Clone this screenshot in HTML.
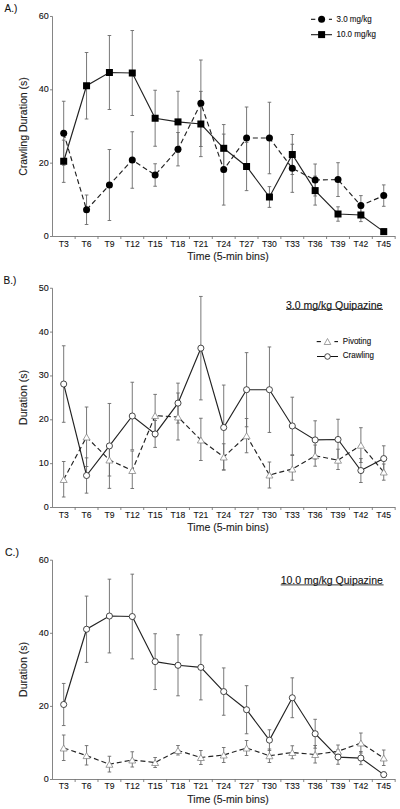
<!DOCTYPE html>
<html><head><meta charset="utf-8"><title>Figure</title>
<style>html,body{margin:0;padding:0;background:#fff;}svg{display:block;}svg text{stroke:#111;stroke-width:0.1px;}</style>
</head><body>
<svg width="400" height="809" viewBox="0 0 400 809" font-family="Liberation Sans, sans-serif">
<rect width="400" height="809" fill="#fff"/>
<text x="4.60" y="11.60" font-size="10" fill="#111">A.)</text>
<line x1="52.5" y1="16.5" x2="52.5" y2="236.5" stroke="#666" stroke-width="0.8"/>
<line x1="50.0" y1="236.5" x2="52.5" y2="236.5" stroke="#666" stroke-width="0.8"/>
<text x="48.80" y="239.00" font-size="9" text-anchor="end" fill="#111">0</text>
<line x1="50.0" y1="163.16" x2="52.5" y2="163.16" stroke="#666" stroke-width="0.8"/>
<text x="48.80" y="165.66" font-size="9" text-anchor="end" fill="#111">20</text>
<line x1="50.0" y1="89.82" x2="52.5" y2="89.82" stroke="#666" stroke-width="0.8"/>
<text x="48.80" y="92.32" font-size="9" text-anchor="end" fill="#111">40</text>
<line x1="50.0" y1="16.480000000000018" x2="52.5" y2="16.480000000000018" stroke="#666" stroke-width="0.8"/>
<text x="48.80" y="18.98" font-size="9" text-anchor="end" fill="#111">60</text>
<line x1="52.5" y1="236.5" x2="395.5" y2="236.5" stroke="#666" stroke-width="0.8"/>
<line x1="75.13" y1="236.5" x2="75.13" y2="239.0" stroke="#666" stroke-width="0.8"/>
<line x1="97.99" y1="236.5" x2="97.99" y2="239.0" stroke="#666" stroke-width="0.8"/>
<line x1="120.85" y1="236.5" x2="120.85" y2="239.0" stroke="#666" stroke-width="0.8"/>
<line x1="143.71" y1="236.5" x2="143.71" y2="239.0" stroke="#666" stroke-width="0.8"/>
<line x1="166.57" y1="236.5" x2="166.57" y2="239.0" stroke="#666" stroke-width="0.8"/>
<line x1="189.43" y1="236.5" x2="189.43" y2="239.0" stroke="#666" stroke-width="0.8"/>
<line x1="212.29" y1="236.5" x2="212.29" y2="239.0" stroke="#666" stroke-width="0.8"/>
<line x1="235.15" y1="236.5" x2="235.15" y2="239.0" stroke="#666" stroke-width="0.8"/>
<line x1="258.01" y1="236.5" x2="258.01" y2="239.0" stroke="#666" stroke-width="0.8"/>
<line x1="280.87" y1="236.5" x2="280.87" y2="239.0" stroke="#666" stroke-width="0.8"/>
<line x1="303.73" y1="236.5" x2="303.73" y2="239.0" stroke="#666" stroke-width="0.8"/>
<line x1="326.59" y1="236.5" x2="326.59" y2="239.0" stroke="#666" stroke-width="0.8"/>
<line x1="349.45" y1="236.5" x2="349.45" y2="239.0" stroke="#666" stroke-width="0.8"/>
<line x1="372.31" y1="236.5" x2="372.31" y2="239.0" stroke="#666" stroke-width="0.8"/>
<line x1="395.17" y1="236.5" x2="395.17" y2="239.0" stroke="#666" stroke-width="0.8"/>
<text transform="translate(63.70 246.70) scale(1 1.1)" font-size="8.6" text-anchor="middle" fill="#111">T3</text>
<text transform="translate(86.56 246.70) scale(1 1.1)" font-size="8.6" text-anchor="middle" fill="#111">T6</text>
<text transform="translate(109.42 246.70) scale(1 1.1)" font-size="8.6" text-anchor="middle" fill="#111">T9</text>
<text transform="translate(132.28 246.70) scale(1 1.1)" font-size="8.6" text-anchor="middle" fill="#111">T12</text>
<text transform="translate(155.14 246.70) scale(1 1.1)" font-size="8.6" text-anchor="middle" fill="#111">T15</text>
<text transform="translate(178.00 246.70) scale(1 1.1)" font-size="8.6" text-anchor="middle" fill="#111">T18</text>
<text transform="translate(200.86 246.70) scale(1 1.1)" font-size="8.6" text-anchor="middle" fill="#111">T21</text>
<text transform="translate(223.72 246.70) scale(1 1.1)" font-size="8.6" text-anchor="middle" fill="#111">T24</text>
<text transform="translate(246.58 246.70) scale(1 1.1)" font-size="8.6" text-anchor="middle" fill="#111">T27</text>
<text transform="translate(269.44 246.70) scale(1 1.1)" font-size="8.6" text-anchor="middle" fill="#111">T30</text>
<text transform="translate(292.30 246.70) scale(1 1.1)" font-size="8.6" text-anchor="middle" fill="#111">T33</text>
<text transform="translate(315.16 246.70) scale(1 1.1)" font-size="8.6" text-anchor="middle" fill="#111">T36</text>
<text transform="translate(338.02 246.70) scale(1 1.1)" font-size="8.6" text-anchor="middle" fill="#111">T39</text>
<text transform="translate(360.88 246.70) scale(1 1.1)" font-size="8.6" text-anchor="middle" fill="#111">T42</text>
<text transform="translate(383.74 246.70) scale(1 1.1)" font-size="8.6" text-anchor="middle" fill="#111">T45</text>
<text x="228" y="259.9" font-size="10.5" text-anchor="middle" fill="#222">Time (5-min bins)</text>
<text transform="translate(27.3 126.5) rotate(-90)" x="0" y="0" font-size="10.5" text-anchor="middle" fill="#222">Crawling Duration (s)</text>
<line x1="63.70" y1="101.25" x2="63.70" y2="165.25" stroke="#6a6a6a" stroke-width="0.9"/>
<line x1="61.90" y1="101.25" x2="65.50" y2="101.25" stroke="#6a6a6a" stroke-width="0.9"/>
<line x1="61.90" y1="165.25" x2="65.50" y2="165.25" stroke="#6a6a6a" stroke-width="0.9"/>
<line x1="86.56" y1="195.00" x2="86.56" y2="224.50" stroke="#6a6a6a" stroke-width="0.9"/>
<line x1="84.76" y1="195.00" x2="88.36" y2="195.00" stroke="#6a6a6a" stroke-width="0.9"/>
<line x1="84.76" y1="224.50" x2="88.36" y2="224.50" stroke="#6a6a6a" stroke-width="0.9"/>
<line x1="109.42" y1="149.50" x2="109.42" y2="220.50" stroke="#6a6a6a" stroke-width="0.9"/>
<line x1="107.62" y1="149.50" x2="111.22" y2="149.50" stroke="#6a6a6a" stroke-width="0.9"/>
<line x1="107.62" y1="220.50" x2="111.22" y2="220.50" stroke="#6a6a6a" stroke-width="0.9"/>
<line x1="132.28" y1="131.75" x2="132.28" y2="188.25" stroke="#6a6a6a" stroke-width="0.9"/>
<line x1="130.48" y1="131.75" x2="134.08" y2="131.75" stroke="#6a6a6a" stroke-width="0.9"/>
<line x1="130.48" y1="188.25" x2="134.08" y2="188.25" stroke="#6a6a6a" stroke-width="0.9"/>
<line x1="155.14" y1="163.75" x2="155.14" y2="186.25" stroke="#6a6a6a" stroke-width="0.9"/>
<line x1="153.34" y1="163.75" x2="156.94" y2="163.75" stroke="#6a6a6a" stroke-width="0.9"/>
<line x1="153.34" y1="186.25" x2="156.94" y2="186.25" stroke="#6a6a6a" stroke-width="0.9"/>
<line x1="178.00" y1="132.50" x2="178.00" y2="165.90" stroke="#6a6a6a" stroke-width="0.9"/>
<line x1="176.20" y1="132.50" x2="179.80" y2="132.50" stroke="#6a6a6a" stroke-width="0.9"/>
<line x1="176.20" y1="165.90" x2="179.80" y2="165.90" stroke="#6a6a6a" stroke-width="0.9"/>
<line x1="200.86" y1="60.00" x2="200.86" y2="146.50" stroke="#6a6a6a" stroke-width="0.9"/>
<line x1="199.06" y1="60.00" x2="202.66" y2="60.00" stroke="#6a6a6a" stroke-width="0.9"/>
<line x1="199.06" y1="146.50" x2="202.66" y2="146.50" stroke="#6a6a6a" stroke-width="0.9"/>
<line x1="223.72" y1="134.10" x2="223.72" y2="205.10" stroke="#6a6a6a" stroke-width="0.9"/>
<line x1="221.92" y1="134.10" x2="225.52" y2="134.10" stroke="#6a6a6a" stroke-width="0.9"/>
<line x1="221.92" y1="205.10" x2="225.52" y2="205.10" stroke="#6a6a6a" stroke-width="0.9"/>
<line x1="246.58" y1="107.00" x2="246.58" y2="169.00" stroke="#6a6a6a" stroke-width="0.9"/>
<line x1="244.78" y1="107.00" x2="248.38" y2="107.00" stroke="#6a6a6a" stroke-width="0.9"/>
<line x1="244.78" y1="169.00" x2="248.38" y2="169.00" stroke="#6a6a6a" stroke-width="0.9"/>
<line x1="269.44" y1="102.25" x2="269.44" y2="173.75" stroke="#6a6a6a" stroke-width="0.9"/>
<line x1="267.64" y1="102.25" x2="271.24" y2="102.25" stroke="#6a6a6a" stroke-width="0.9"/>
<line x1="267.64" y1="173.75" x2="271.24" y2="173.75" stroke="#6a6a6a" stroke-width="0.9"/>
<line x1="292.30" y1="144.25" x2="292.30" y2="192.35" stroke="#6a6a6a" stroke-width="0.9"/>
<line x1="290.50" y1="144.25" x2="294.10" y2="144.25" stroke="#6a6a6a" stroke-width="0.9"/>
<line x1="290.50" y1="192.35" x2="294.10" y2="192.35" stroke="#6a6a6a" stroke-width="0.9"/>
<line x1="315.16" y1="164.00" x2="315.16" y2="196.00" stroke="#6a6a6a" stroke-width="0.9"/>
<line x1="313.36" y1="164.00" x2="316.96" y2="164.00" stroke="#6a6a6a" stroke-width="0.9"/>
<line x1="313.36" y1="196.00" x2="316.96" y2="196.00" stroke="#6a6a6a" stroke-width="0.9"/>
<line x1="338.02" y1="162.70" x2="338.02" y2="196.50" stroke="#6a6a6a" stroke-width="0.9"/>
<line x1="336.22" y1="162.70" x2="339.82" y2="162.70" stroke="#6a6a6a" stroke-width="0.9"/>
<line x1="336.22" y1="196.50" x2="339.82" y2="196.50" stroke="#6a6a6a" stroke-width="0.9"/>
<line x1="360.88" y1="195.60" x2="360.88" y2="215.60" stroke="#6a6a6a" stroke-width="0.9"/>
<line x1="359.08" y1="195.60" x2="362.68" y2="195.60" stroke="#6a6a6a" stroke-width="0.9"/>
<line x1="359.08" y1="215.60" x2="362.68" y2="215.60" stroke="#6a6a6a" stroke-width="0.9"/>
<line x1="383.74" y1="184.90" x2="383.74" y2="206.30" stroke="#6a6a6a" stroke-width="0.9"/>
<line x1="381.94" y1="184.90" x2="385.54" y2="184.90" stroke="#6a6a6a" stroke-width="0.9"/>
<line x1="381.94" y1="206.30" x2="385.54" y2="206.30" stroke="#6a6a6a" stroke-width="0.9"/>
<line x1="63.70" y1="140.12" x2="63.70" y2="182.38" stroke="#6a6a6a" stroke-width="0.9"/>
<line x1="61.90" y1="140.12" x2="65.50" y2="140.12" stroke="#6a6a6a" stroke-width="0.9"/>
<line x1="61.90" y1="182.38" x2="65.50" y2="182.38" stroke="#6a6a6a" stroke-width="0.9"/>
<line x1="86.56" y1="52.50" x2="86.56" y2="119.00" stroke="#6a6a6a" stroke-width="0.9"/>
<line x1="84.76" y1="52.50" x2="88.36" y2="52.50" stroke="#6a6a6a" stroke-width="0.9"/>
<line x1="84.76" y1="119.00" x2="88.36" y2="119.00" stroke="#6a6a6a" stroke-width="0.9"/>
<line x1="109.42" y1="35.50" x2="109.42" y2="109.50" stroke="#6a6a6a" stroke-width="0.9"/>
<line x1="107.62" y1="35.50" x2="111.22" y2="35.50" stroke="#6a6a6a" stroke-width="0.9"/>
<line x1="107.62" y1="109.50" x2="111.22" y2="109.50" stroke="#6a6a6a" stroke-width="0.9"/>
<line x1="132.28" y1="30.50" x2="132.28" y2="115.50" stroke="#6a6a6a" stroke-width="0.9"/>
<line x1="130.48" y1="30.50" x2="134.08" y2="30.50" stroke="#6a6a6a" stroke-width="0.9"/>
<line x1="130.48" y1="115.50" x2="134.08" y2="115.50" stroke="#6a6a6a" stroke-width="0.9"/>
<line x1="155.14" y1="90.25" x2="155.14" y2="146.25" stroke="#6a6a6a" stroke-width="0.9"/>
<line x1="153.34" y1="90.25" x2="156.94" y2="90.25" stroke="#6a6a6a" stroke-width="0.9"/>
<line x1="153.34" y1="146.25" x2="156.94" y2="146.25" stroke="#6a6a6a" stroke-width="0.9"/>
<line x1="178.00" y1="91.28" x2="178.00" y2="152.53" stroke="#6a6a6a" stroke-width="0.9"/>
<line x1="176.20" y1="91.28" x2="179.80" y2="91.28" stroke="#6a6a6a" stroke-width="0.9"/>
<line x1="176.20" y1="152.53" x2="179.80" y2="152.53" stroke="#6a6a6a" stroke-width="0.9"/>
<line x1="200.86" y1="91.38" x2="200.86" y2="156.62" stroke="#6a6a6a" stroke-width="0.9"/>
<line x1="199.06" y1="91.38" x2="202.66" y2="91.38" stroke="#6a6a6a" stroke-width="0.9"/>
<line x1="199.06" y1="156.62" x2="202.66" y2="156.62" stroke="#6a6a6a" stroke-width="0.9"/>
<line x1="223.72" y1="124.55" x2="223.72" y2="172.05" stroke="#6a6a6a" stroke-width="0.9"/>
<line x1="221.92" y1="124.55" x2="225.52" y2="124.55" stroke="#6a6a6a" stroke-width="0.9"/>
<line x1="221.92" y1="172.05" x2="225.52" y2="172.05" stroke="#6a6a6a" stroke-width="0.9"/>
<line x1="246.58" y1="142.38" x2="246.58" y2="190.62" stroke="#6a6a6a" stroke-width="0.9"/>
<line x1="244.78" y1="142.38" x2="248.38" y2="142.38" stroke="#6a6a6a" stroke-width="0.9"/>
<line x1="244.78" y1="190.62" x2="248.38" y2="190.62" stroke="#6a6a6a" stroke-width="0.9"/>
<line x1="269.44" y1="186.62" x2="269.44" y2="207.38" stroke="#6a6a6a" stroke-width="0.9"/>
<line x1="267.64" y1="186.62" x2="271.24" y2="186.62" stroke="#6a6a6a" stroke-width="0.9"/>
<line x1="267.64" y1="207.38" x2="271.24" y2="207.38" stroke="#6a6a6a" stroke-width="0.9"/>
<line x1="292.30" y1="134.50" x2="292.30" y2="174.50" stroke="#6a6a6a" stroke-width="0.9"/>
<line x1="290.50" y1="134.50" x2="294.10" y2="134.50" stroke="#6a6a6a" stroke-width="0.9"/>
<line x1="290.50" y1="174.50" x2="294.10" y2="174.50" stroke="#6a6a6a" stroke-width="0.9"/>
<line x1="315.16" y1="176.10" x2="315.16" y2="205.10" stroke="#6a6a6a" stroke-width="0.9"/>
<line x1="313.36" y1="176.10" x2="316.96" y2="176.10" stroke="#6a6a6a" stroke-width="0.9"/>
<line x1="313.36" y1="205.10" x2="316.96" y2="205.10" stroke="#6a6a6a" stroke-width="0.9"/>
<line x1="338.02" y1="206.80" x2="338.02" y2="221.20" stroke="#6a6a6a" stroke-width="0.9"/>
<line x1="336.22" y1="206.80" x2="339.82" y2="206.80" stroke="#6a6a6a" stroke-width="0.9"/>
<line x1="336.22" y1="221.20" x2="339.82" y2="221.20" stroke="#6a6a6a" stroke-width="0.9"/>
<line x1="360.88" y1="208.40" x2="360.88" y2="221.60" stroke="#6a6a6a" stroke-width="0.9"/>
<line x1="359.08" y1="208.40" x2="362.68" y2="208.40" stroke="#6a6a6a" stroke-width="0.9"/>
<line x1="359.08" y1="221.60" x2="362.68" y2="221.60" stroke="#6a6a6a" stroke-width="0.9"/>
<line x1="383.74" y1="229.10" x2="383.74" y2="234.10" stroke="#6a6a6a" stroke-width="0.9"/>
<line x1="381.94" y1="229.10" x2="385.54" y2="229.10" stroke="#6a6a6a" stroke-width="0.9"/>
<line x1="381.94" y1="234.10" x2="385.54" y2="234.10" stroke="#6a6a6a" stroke-width="0.9"/>
<polyline points="63.70,161.25 86.56,85.75 109.42,72.50 132.28,73.00 155.14,118.25 178.00,121.90 200.86,124.00 223.72,148.30 246.58,166.50 269.44,197.00 292.30,154.50 315.16,190.60 338.02,214.00 360.88,215.00 383.74,231.60" fill="none" stroke="#222" stroke-width="1.15"/>
<polyline points="63.70,133.25 86.56,209.75 109.42,185.00 132.28,160.00 155.14,175.00 178.00,149.20 200.86,103.25 223.72,169.60 246.58,138.00 269.44,138.00 292.30,168.30 315.16,180.00 338.02,179.60 360.88,205.60 383.74,195.60" fill="none" stroke="#222" stroke-width="1.15" stroke-dasharray="5 3"/>
<circle cx="63.70" cy="133.25" r="3.5" fill="#000"/>
<circle cx="86.56" cy="209.75" r="3.5" fill="#000"/>
<circle cx="109.42" cy="185.00" r="3.5" fill="#000"/>
<circle cx="132.28" cy="160.00" r="3.5" fill="#000"/>
<circle cx="155.14" cy="175.00" r="3.5" fill="#000"/>
<circle cx="178.00" cy="149.20" r="3.5" fill="#000"/>
<circle cx="200.86" cy="103.25" r="3.5" fill="#000"/>
<circle cx="223.72" cy="169.60" r="3.5" fill="#000"/>
<circle cx="246.58" cy="138.00" r="3.5" fill="#000"/>
<circle cx="269.44" cy="138.00" r="3.5" fill="#000"/>
<circle cx="292.30" cy="168.30" r="3.5" fill="#000"/>
<circle cx="315.16" cy="180.00" r="3.5" fill="#000"/>
<circle cx="338.02" cy="179.60" r="3.5" fill="#000"/>
<circle cx="360.88" cy="205.60" r="3.5" fill="#000"/>
<circle cx="383.74" cy="195.60" r="3.5" fill="#000"/>
<rect x="60.20" y="157.75" width="7" height="7" fill="#000"/>
<rect x="83.06" y="82.25" width="7" height="7" fill="#000"/>
<rect x="105.92" y="69.00" width="7" height="7" fill="#000"/>
<rect x="128.78" y="69.50" width="7" height="7" fill="#000"/>
<rect x="151.64" y="114.75" width="7" height="7" fill="#000"/>
<rect x="174.50" y="118.40" width="7" height="7" fill="#000"/>
<rect x="197.36" y="120.50" width="7" height="7" fill="#000"/>
<rect x="220.22" y="144.80" width="7" height="7" fill="#000"/>
<rect x="243.08" y="163.00" width="7" height="7" fill="#000"/>
<rect x="265.94" y="193.50" width="7" height="7" fill="#000"/>
<rect x="288.80" y="151.00" width="7" height="7" fill="#000"/>
<rect x="311.66" y="187.10" width="7" height="7" fill="#000"/>
<rect x="334.52" y="210.50" width="7" height="7" fill="#000"/>
<rect x="357.38" y="211.50" width="7" height="7" fill="#000"/>
<rect x="380.24" y="228.10" width="7" height="7" fill="#000"/>
<line x1="311" y1="19.3" x2="315.3" y2="19.3" stroke="#111" stroke-width="1.1"/>
<line x1="328.9" y1="19.3" x2="332" y2="19.3" stroke="#111" stroke-width="1.1"/>
<circle cx="321.6" cy="19.3" r="3.5" fill="#000"/>
<text transform="translate(336.50 21.60) scale(1 1.2)" font-size="8" fill="#111">3.0 mg/kg</text>
<line x1="311" y1="34.7" x2="332" y2="34.7" stroke="#111" stroke-width="1.05"/>
<rect x="318.1" y="31.1" width="7" height="7" fill="#000"/>
<text transform="translate(336.50 37.10) scale(1 1.2)" font-size="8" fill="#111">10.0 mg/kg</text>
<text x="3.50" y="283.60" font-size="10" fill="#111">B.)</text>
<line x1="52.5" y1="288.25" x2="52.5" y2="507.5" stroke="#666" stroke-width="0.8"/>
<line x1="50.0" y1="507.5" x2="52.5" y2="507.5" stroke="#666" stroke-width="0.8"/>
<text x="48.80" y="510.00" font-size="9" text-anchor="end" fill="#111">0</text>
<line x1="50.0" y1="463.65" x2="52.5" y2="463.65" stroke="#666" stroke-width="0.8"/>
<text x="48.80" y="466.15" font-size="9" text-anchor="end" fill="#111">10</text>
<line x1="50.0" y1="419.8" x2="52.5" y2="419.8" stroke="#666" stroke-width="0.8"/>
<text x="48.80" y="422.30" font-size="9" text-anchor="end" fill="#111">20</text>
<line x1="50.0" y1="375.95000000000005" x2="52.5" y2="375.95000000000005" stroke="#666" stroke-width="0.8"/>
<text x="48.80" y="378.45" font-size="9" text-anchor="end" fill="#111">30</text>
<line x1="50.0" y1="332.1" x2="52.5" y2="332.1" stroke="#666" stroke-width="0.8"/>
<text x="48.80" y="334.60" font-size="9" text-anchor="end" fill="#111">40</text>
<line x1="50.0" y1="288.25" x2="52.5" y2="288.25" stroke="#666" stroke-width="0.8"/>
<text x="48.80" y="290.75" font-size="9" text-anchor="end" fill="#111">50</text>
<line x1="52.5" y1="507.5" x2="395.5" y2="507.5" stroke="#666" stroke-width="0.8"/>
<line x1="75.13" y1="507.5" x2="75.13" y2="510.0" stroke="#666" stroke-width="0.8"/>
<line x1="97.99" y1="507.5" x2="97.99" y2="510.0" stroke="#666" stroke-width="0.8"/>
<line x1="120.85" y1="507.5" x2="120.85" y2="510.0" stroke="#666" stroke-width="0.8"/>
<line x1="143.71" y1="507.5" x2="143.71" y2="510.0" stroke="#666" stroke-width="0.8"/>
<line x1="166.57" y1="507.5" x2="166.57" y2="510.0" stroke="#666" stroke-width="0.8"/>
<line x1="189.43" y1="507.5" x2="189.43" y2="510.0" stroke="#666" stroke-width="0.8"/>
<line x1="212.29" y1="507.5" x2="212.29" y2="510.0" stroke="#666" stroke-width="0.8"/>
<line x1="235.15" y1="507.5" x2="235.15" y2="510.0" stroke="#666" stroke-width="0.8"/>
<line x1="258.01" y1="507.5" x2="258.01" y2="510.0" stroke="#666" stroke-width="0.8"/>
<line x1="280.87" y1="507.5" x2="280.87" y2="510.0" stroke="#666" stroke-width="0.8"/>
<line x1="303.73" y1="507.5" x2="303.73" y2="510.0" stroke="#666" stroke-width="0.8"/>
<line x1="326.59" y1="507.5" x2="326.59" y2="510.0" stroke="#666" stroke-width="0.8"/>
<line x1="349.45" y1="507.5" x2="349.45" y2="510.0" stroke="#666" stroke-width="0.8"/>
<line x1="372.31" y1="507.5" x2="372.31" y2="510.0" stroke="#666" stroke-width="0.8"/>
<line x1="395.17" y1="507.5" x2="395.17" y2="510.0" stroke="#666" stroke-width="0.8"/>
<text transform="translate(63.70 518.40) scale(1 1.1)" font-size="8.6" text-anchor="middle" fill="#111">T3</text>
<text transform="translate(86.56 518.40) scale(1 1.1)" font-size="8.6" text-anchor="middle" fill="#111">T6</text>
<text transform="translate(109.42 518.40) scale(1 1.1)" font-size="8.6" text-anchor="middle" fill="#111">T9</text>
<text transform="translate(132.28 518.40) scale(1 1.1)" font-size="8.6" text-anchor="middle" fill="#111">T12</text>
<text transform="translate(155.14 518.40) scale(1 1.1)" font-size="8.6" text-anchor="middle" fill="#111">T15</text>
<text transform="translate(178.00 518.40) scale(1 1.1)" font-size="8.6" text-anchor="middle" fill="#111">T18</text>
<text transform="translate(200.86 518.40) scale(1 1.1)" font-size="8.6" text-anchor="middle" fill="#111">T21</text>
<text transform="translate(223.72 518.40) scale(1 1.1)" font-size="8.6" text-anchor="middle" fill="#111">T24</text>
<text transform="translate(246.58 518.40) scale(1 1.1)" font-size="8.6" text-anchor="middle" fill="#111">T27</text>
<text transform="translate(269.44 518.40) scale(1 1.1)" font-size="8.6" text-anchor="middle" fill="#111">T30</text>
<text transform="translate(292.30 518.40) scale(1 1.1)" font-size="8.6" text-anchor="middle" fill="#111">T33</text>
<text transform="translate(315.16 518.40) scale(1 1.1)" font-size="8.6" text-anchor="middle" fill="#111">T36</text>
<text transform="translate(338.02 518.40) scale(1 1.1)" font-size="8.6" text-anchor="middle" fill="#111">T39</text>
<text transform="translate(360.88 518.40) scale(1 1.1)" font-size="8.6" text-anchor="middle" fill="#111">T42</text>
<text transform="translate(383.74 518.40) scale(1 1.1)" font-size="8.6" text-anchor="middle" fill="#111">T45</text>
<text x="228" y="531" font-size="10.5" text-anchor="middle" fill="#222">Time (5-min bins)</text>
<text transform="translate(27.3 397.5) rotate(-90)" x="0" y="0" font-size="10.5" text-anchor="middle" fill="#222">Duration (s)</text>
<line x1="63.70" y1="461.50" x2="63.70" y2="497.00" stroke="#6a6a6a" stroke-width="0.9"/>
<line x1="61.90" y1="461.50" x2="65.50" y2="461.50" stroke="#6a6a6a" stroke-width="0.9"/>
<line x1="61.90" y1="497.00" x2="65.50" y2="497.00" stroke="#6a6a6a" stroke-width="0.9"/>
<line x1="86.56" y1="407.00" x2="86.56" y2="466.50" stroke="#6a6a6a" stroke-width="0.9"/>
<line x1="84.76" y1="407.00" x2="88.36" y2="407.00" stroke="#6a6a6a" stroke-width="0.9"/>
<line x1="84.76" y1="466.50" x2="88.36" y2="466.50" stroke="#6a6a6a" stroke-width="0.9"/>
<line x1="109.42" y1="444.00" x2="109.42" y2="476.00" stroke="#6a6a6a" stroke-width="0.9"/>
<line x1="107.62" y1="444.00" x2="111.22" y2="444.00" stroke="#6a6a6a" stroke-width="0.9"/>
<line x1="107.62" y1="476.00" x2="111.22" y2="476.00" stroke="#6a6a6a" stroke-width="0.9"/>
<line x1="132.28" y1="451.00" x2="132.28" y2="488.50" stroke="#6a6a6a" stroke-width="0.9"/>
<line x1="130.48" y1="451.00" x2="134.08" y2="451.00" stroke="#6a6a6a" stroke-width="0.9"/>
<line x1="130.48" y1="488.50" x2="134.08" y2="488.50" stroke="#6a6a6a" stroke-width="0.9"/>
<line x1="155.14" y1="394.40" x2="155.14" y2="436.80" stroke="#6a6a6a" stroke-width="0.9"/>
<line x1="153.34" y1="394.40" x2="156.94" y2="394.40" stroke="#6a6a6a" stroke-width="0.9"/>
<line x1="153.34" y1="436.80" x2="156.94" y2="436.80" stroke="#6a6a6a" stroke-width="0.9"/>
<line x1="178.00" y1="393.00" x2="178.00" y2="440.00" stroke="#6a6a6a" stroke-width="0.9"/>
<line x1="176.20" y1="393.00" x2="179.80" y2="393.00" stroke="#6a6a6a" stroke-width="0.9"/>
<line x1="176.20" y1="440.00" x2="179.80" y2="440.00" stroke="#6a6a6a" stroke-width="0.9"/>
<line x1="200.86" y1="418.25" x2="200.86" y2="460.50" stroke="#6a6a6a" stroke-width="0.9"/>
<line x1="199.06" y1="418.25" x2="202.66" y2="418.25" stroke="#6a6a6a" stroke-width="0.9"/>
<line x1="199.06" y1="460.50" x2="202.66" y2="460.50" stroke="#6a6a6a" stroke-width="0.9"/>
<line x1="223.72" y1="443.75" x2="223.72" y2="470.00" stroke="#6a6a6a" stroke-width="0.9"/>
<line x1="221.92" y1="443.75" x2="225.52" y2="443.75" stroke="#6a6a6a" stroke-width="0.9"/>
<line x1="221.92" y1="470.00" x2="225.52" y2="470.00" stroke="#6a6a6a" stroke-width="0.9"/>
<line x1="246.58" y1="418.50" x2="246.58" y2="452.75" stroke="#6a6a6a" stroke-width="0.9"/>
<line x1="244.78" y1="418.50" x2="248.38" y2="418.50" stroke="#6a6a6a" stroke-width="0.9"/>
<line x1="244.78" y1="452.75" x2="248.38" y2="452.75" stroke="#6a6a6a" stroke-width="0.9"/>
<line x1="269.44" y1="462.00" x2="269.44" y2="488.00" stroke="#6a6a6a" stroke-width="0.9"/>
<line x1="267.64" y1="462.00" x2="271.24" y2="462.00" stroke="#6a6a6a" stroke-width="0.9"/>
<line x1="267.64" y1="488.00" x2="271.24" y2="488.00" stroke="#6a6a6a" stroke-width="0.9"/>
<line x1="292.30" y1="455.50" x2="292.30" y2="480.20" stroke="#6a6a6a" stroke-width="0.9"/>
<line x1="290.50" y1="455.50" x2="294.10" y2="455.50" stroke="#6a6a6a" stroke-width="0.9"/>
<line x1="290.50" y1="480.20" x2="294.10" y2="480.20" stroke="#6a6a6a" stroke-width="0.9"/>
<line x1="315.16" y1="445.00" x2="315.16" y2="466.20" stroke="#6a6a6a" stroke-width="0.9"/>
<line x1="313.36" y1="445.00" x2="316.96" y2="445.00" stroke="#6a6a6a" stroke-width="0.9"/>
<line x1="313.36" y1="466.20" x2="316.96" y2="466.20" stroke="#6a6a6a" stroke-width="0.9"/>
<line x1="338.02" y1="449.20" x2="338.02" y2="469.50" stroke="#6a6a6a" stroke-width="0.9"/>
<line x1="336.22" y1="449.20" x2="339.82" y2="449.20" stroke="#6a6a6a" stroke-width="0.9"/>
<line x1="336.22" y1="469.50" x2="339.82" y2="469.50" stroke="#6a6a6a" stroke-width="0.9"/>
<line x1="360.88" y1="427.70" x2="360.88" y2="462.50" stroke="#6a6a6a" stroke-width="0.9"/>
<line x1="359.08" y1="427.70" x2="362.68" y2="427.70" stroke="#6a6a6a" stroke-width="0.9"/>
<line x1="359.08" y1="462.50" x2="362.68" y2="462.50" stroke="#6a6a6a" stroke-width="0.9"/>
<line x1="383.74" y1="464.00" x2="383.74" y2="480.20" stroke="#6a6a6a" stroke-width="0.9"/>
<line x1="381.94" y1="464.00" x2="385.54" y2="464.00" stroke="#6a6a6a" stroke-width="0.9"/>
<line x1="381.94" y1="480.20" x2="385.54" y2="480.20" stroke="#6a6a6a" stroke-width="0.9"/>
<line x1="63.70" y1="345.77" x2="63.70" y2="422.30" stroke="#6a6a6a" stroke-width="0.9"/>
<line x1="61.90" y1="345.77" x2="65.50" y2="345.77" stroke="#6a6a6a" stroke-width="0.9"/>
<line x1="61.90" y1="422.30" x2="65.50" y2="422.30" stroke="#6a6a6a" stroke-width="0.9"/>
<line x1="86.56" y1="457.87" x2="86.56" y2="493.15" stroke="#6a6a6a" stroke-width="0.9"/>
<line x1="84.76" y1="457.87" x2="88.36" y2="457.87" stroke="#6a6a6a" stroke-width="0.9"/>
<line x1="84.76" y1="493.15" x2="88.36" y2="493.15" stroke="#6a6a6a" stroke-width="0.9"/>
<line x1="109.42" y1="403.47" x2="109.42" y2="488.37" stroke="#6a6a6a" stroke-width="0.9"/>
<line x1="107.62" y1="403.47" x2="111.22" y2="403.47" stroke="#6a6a6a" stroke-width="0.9"/>
<line x1="107.62" y1="488.37" x2="111.22" y2="488.37" stroke="#6a6a6a" stroke-width="0.9"/>
<line x1="132.28" y1="382.24" x2="132.28" y2="449.80" stroke="#6a6a6a" stroke-width="0.9"/>
<line x1="130.48" y1="382.24" x2="134.08" y2="382.24" stroke="#6a6a6a" stroke-width="0.9"/>
<line x1="130.48" y1="449.80" x2="134.08" y2="449.80" stroke="#6a6a6a" stroke-width="0.9"/>
<line x1="155.14" y1="420.51" x2="155.14" y2="447.41" stroke="#6a6a6a" stroke-width="0.9"/>
<line x1="153.34" y1="420.51" x2="156.94" y2="420.51" stroke="#6a6a6a" stroke-width="0.9"/>
<line x1="153.34" y1="447.41" x2="156.94" y2="447.41" stroke="#6a6a6a" stroke-width="0.9"/>
<line x1="178.00" y1="383.14" x2="178.00" y2="423.08" stroke="#6a6a6a" stroke-width="0.9"/>
<line x1="176.20" y1="383.14" x2="179.80" y2="383.14" stroke="#6a6a6a" stroke-width="0.9"/>
<line x1="176.20" y1="423.08" x2="179.80" y2="423.08" stroke="#6a6a6a" stroke-width="0.9"/>
<line x1="200.86" y1="296.44" x2="200.86" y2="399.88" stroke="#6a6a6a" stroke-width="0.9"/>
<line x1="199.06" y1="296.44" x2="202.66" y2="296.44" stroke="#6a6a6a" stroke-width="0.9"/>
<line x1="199.06" y1="399.88" x2="202.66" y2="399.88" stroke="#6a6a6a" stroke-width="0.9"/>
<line x1="223.72" y1="385.05" x2="223.72" y2="469.95" stroke="#6a6a6a" stroke-width="0.9"/>
<line x1="221.92" y1="385.05" x2="225.52" y2="385.05" stroke="#6a6a6a" stroke-width="0.9"/>
<line x1="221.92" y1="469.95" x2="225.52" y2="469.95" stroke="#6a6a6a" stroke-width="0.9"/>
<line x1="246.58" y1="352.64" x2="246.58" y2="426.78" stroke="#6a6a6a" stroke-width="0.9"/>
<line x1="244.78" y1="352.64" x2="248.38" y2="352.64" stroke="#6a6a6a" stroke-width="0.9"/>
<line x1="244.78" y1="426.78" x2="248.38" y2="426.78" stroke="#6a6a6a" stroke-width="0.9"/>
<line x1="269.44" y1="346.96" x2="269.44" y2="432.46" stroke="#6a6a6a" stroke-width="0.9"/>
<line x1="267.64" y1="346.96" x2="271.24" y2="346.96" stroke="#6a6a6a" stroke-width="0.9"/>
<line x1="267.64" y1="432.46" x2="271.24" y2="432.46" stroke="#6a6a6a" stroke-width="0.9"/>
<line x1="292.30" y1="397.19" x2="292.30" y2="454.71" stroke="#6a6a6a" stroke-width="0.9"/>
<line x1="290.50" y1="397.19" x2="294.10" y2="397.19" stroke="#6a6a6a" stroke-width="0.9"/>
<line x1="290.50" y1="454.71" x2="294.10" y2="454.71" stroke="#6a6a6a" stroke-width="0.9"/>
<line x1="315.16" y1="420.80" x2="315.16" y2="459.07" stroke="#6a6a6a" stroke-width="0.9"/>
<line x1="313.36" y1="420.80" x2="316.96" y2="420.80" stroke="#6a6a6a" stroke-width="0.9"/>
<line x1="313.36" y1="459.07" x2="316.96" y2="459.07" stroke="#6a6a6a" stroke-width="0.9"/>
<line x1="338.02" y1="419.25" x2="338.02" y2="459.67" stroke="#6a6a6a" stroke-width="0.9"/>
<line x1="336.22" y1="419.25" x2="339.82" y2="419.25" stroke="#6a6a6a" stroke-width="0.9"/>
<line x1="336.22" y1="459.67" x2="339.82" y2="459.67" stroke="#6a6a6a" stroke-width="0.9"/>
<line x1="360.88" y1="458.59" x2="360.88" y2="482.51" stroke="#6a6a6a" stroke-width="0.9"/>
<line x1="359.08" y1="458.59" x2="362.68" y2="458.59" stroke="#6a6a6a" stroke-width="0.9"/>
<line x1="359.08" y1="482.51" x2="362.68" y2="482.51" stroke="#6a6a6a" stroke-width="0.9"/>
<line x1="383.74" y1="445.80" x2="383.74" y2="471.39" stroke="#6a6a6a" stroke-width="0.9"/>
<line x1="381.94" y1="445.80" x2="385.54" y2="445.80" stroke="#6a6a6a" stroke-width="0.9"/>
<line x1="381.94" y1="471.39" x2="385.54" y2="471.39" stroke="#6a6a6a" stroke-width="0.9"/>
<polyline points="63.70,479.50 86.56,437.00 109.42,460.00 132.28,470.50 155.14,415.60 178.00,417.00 200.86,440.00 223.72,457.00 246.58,435.75 269.44,475.00 292.30,469.00 315.16,455.70 338.02,460.20 360.88,445.20 383.74,472.00" fill="none" stroke="#222" stroke-width="1.15" stroke-dasharray="5 3"/>
<polyline points="63.70,384.03 86.56,475.51 109.42,445.92 132.28,416.02 155.14,433.96 178.00,403.11 200.86,348.16 223.72,427.50 246.58,389.71 269.44,389.71 292.30,425.95 315.16,439.94 338.02,439.46 360.88,470.55 383.74,458.59" fill="none" stroke="#222" stroke-width="1.15"/>
<polygon points="63.70,476.50 67.20,482.50 60.20,482.50" fill="#fff" stroke="#888" stroke-width="0.8"/>
<polygon points="86.56,434.00 90.06,440.00 83.06,440.00" fill="#fff" stroke="#888" stroke-width="0.8"/>
<polygon points="109.42,457.00 112.92,463.00 105.92,463.00" fill="#fff" stroke="#888" stroke-width="0.8"/>
<polygon points="132.28,467.50 135.78,473.50 128.78,473.50" fill="#fff" stroke="#888" stroke-width="0.8"/>
<polygon points="155.14,412.60 158.64,418.60 151.64,418.60" fill="#fff" stroke="#888" stroke-width="0.8"/>
<polygon points="178.00,414.00 181.50,420.00 174.50,420.00" fill="#fff" stroke="#888" stroke-width="0.8"/>
<polygon points="200.86,437.00 204.36,443.00 197.36,443.00" fill="#fff" stroke="#888" stroke-width="0.8"/>
<polygon points="223.72,454.00 227.22,460.00 220.22,460.00" fill="#fff" stroke="#888" stroke-width="0.8"/>
<polygon points="246.58,432.75 250.08,438.75 243.08,438.75" fill="#fff" stroke="#888" stroke-width="0.8"/>
<polygon points="269.44,472.00 272.94,478.00 265.94,478.00" fill="#fff" stroke="#888" stroke-width="0.8"/>
<polygon points="292.30,466.00 295.80,472.00 288.80,472.00" fill="#fff" stroke="#888" stroke-width="0.8"/>
<polygon points="315.16,452.70 318.66,458.70 311.66,458.70" fill="#fff" stroke="#888" stroke-width="0.8"/>
<polygon points="338.02,457.20 341.52,463.20 334.52,463.20" fill="#fff" stroke="#888" stroke-width="0.8"/>
<polygon points="360.88,442.20 364.38,448.20 357.38,448.20" fill="#fff" stroke="#888" stroke-width="0.8"/>
<polygon points="383.74,469.00 387.24,475.00 380.24,475.00" fill="#fff" stroke="#888" stroke-width="0.8"/>
<circle cx="63.70" cy="384.03" r="3.05" fill="#fff" stroke="#333" stroke-width="0.9"/>
<circle cx="86.56" cy="475.51" r="3.05" fill="#fff" stroke="#333" stroke-width="0.9"/>
<circle cx="109.42" cy="445.92" r="3.05" fill="#fff" stroke="#333" stroke-width="0.9"/>
<circle cx="132.28" cy="416.02" r="3.05" fill="#fff" stroke="#333" stroke-width="0.9"/>
<circle cx="155.14" cy="433.96" r="3.05" fill="#fff" stroke="#333" stroke-width="0.9"/>
<circle cx="178.00" cy="403.11" r="3.05" fill="#fff" stroke="#333" stroke-width="0.9"/>
<circle cx="200.86" cy="348.16" r="3.05" fill="#fff" stroke="#333" stroke-width="0.9"/>
<circle cx="223.72" cy="427.50" r="3.05" fill="#fff" stroke="#333" stroke-width="0.9"/>
<circle cx="246.58" cy="389.71" r="3.05" fill="#fff" stroke="#333" stroke-width="0.9"/>
<circle cx="269.44" cy="389.71" r="3.05" fill="#fff" stroke="#333" stroke-width="0.9"/>
<circle cx="292.30" cy="425.95" r="3.05" fill="#fff" stroke="#333" stroke-width="0.9"/>
<circle cx="315.16" cy="439.94" r="3.05" fill="#fff" stroke="#333" stroke-width="0.9"/>
<circle cx="338.02" cy="439.46" r="3.05" fill="#fff" stroke="#333" stroke-width="0.9"/>
<circle cx="360.88" cy="470.55" r="3.05" fill="#fff" stroke="#333" stroke-width="0.9"/>
<circle cx="383.74" cy="458.59" r="3.05" fill="#fff" stroke="#333" stroke-width="0.9"/>
<text x="286" y="308.6" font-size="10.5" fill="#111">3.0 mg/kg Quipazine</text>
<line x1="286" y1="309.4" x2="383" y2="309.4" stroke="#222" stroke-width="0.9"/>
<line x1="316.7" y1="341.6" x2="320.9" y2="341.6" stroke="#111" stroke-width="1.1"/>
<line x1="334.4" y1="341.6" x2="338" y2="341.6" stroke="#111" stroke-width="1.1"/>
<polygon points="327.5,338.5 330.8,344.5 324.2,344.5" fill="#fff" stroke="#888" stroke-width="0.8"/>
<text transform="translate(342.80 343.80) scale(1 1.2)" font-size="8" fill="#111">Pivoting</text>
<line x1="317" y1="356.5" x2="338" y2="356.5" stroke="#111" stroke-width="1.05"/>
<circle cx="327.5" cy="356.5" r="2.8" fill="#fff" stroke="#333" stroke-width="0.9"/>
<text transform="translate(342.80 358.30) scale(1 1.2)" font-size="8" fill="#111">Crawling</text>
<text x="5.00" y="555.60" font-size="10.5" fill="#111">C.)</text>
<line x1="52.5" y1="560.2" x2="52.5" y2="779.5" stroke="#666" stroke-width="0.8"/>
<line x1="50.0" y1="779.5" x2="52.5" y2="779.5" stroke="#666" stroke-width="0.8"/>
<text x="48.80" y="782.00" font-size="9" text-anchor="end" fill="#111">0</text>
<line x1="50.0" y1="706.4" x2="52.5" y2="706.4" stroke="#666" stroke-width="0.8"/>
<text x="48.80" y="708.90" font-size="9" text-anchor="end" fill="#111">20</text>
<line x1="50.0" y1="633.3" x2="52.5" y2="633.3" stroke="#666" stroke-width="0.8"/>
<text x="48.80" y="635.80" font-size="9" text-anchor="end" fill="#111">40</text>
<line x1="50.0" y1="560.2" x2="52.5" y2="560.2" stroke="#666" stroke-width="0.8"/>
<text x="48.80" y="562.70" font-size="9" text-anchor="end" fill="#111">60</text>
<line x1="52.5" y1="779.5" x2="395.5" y2="779.5" stroke="#666" stroke-width="0.8"/>
<line x1="75.13" y1="779.5" x2="75.13" y2="782.0" stroke="#666" stroke-width="0.8"/>
<line x1="97.99" y1="779.5" x2="97.99" y2="782.0" stroke="#666" stroke-width="0.8"/>
<line x1="120.85" y1="779.5" x2="120.85" y2="782.0" stroke="#666" stroke-width="0.8"/>
<line x1="143.71" y1="779.5" x2="143.71" y2="782.0" stroke="#666" stroke-width="0.8"/>
<line x1="166.57" y1="779.5" x2="166.57" y2="782.0" stroke="#666" stroke-width="0.8"/>
<line x1="189.43" y1="779.5" x2="189.43" y2="782.0" stroke="#666" stroke-width="0.8"/>
<line x1="212.29" y1="779.5" x2="212.29" y2="782.0" stroke="#666" stroke-width="0.8"/>
<line x1="235.15" y1="779.5" x2="235.15" y2="782.0" stroke="#666" stroke-width="0.8"/>
<line x1="258.01" y1="779.5" x2="258.01" y2="782.0" stroke="#666" stroke-width="0.8"/>
<line x1="280.87" y1="779.5" x2="280.87" y2="782.0" stroke="#666" stroke-width="0.8"/>
<line x1="303.73" y1="779.5" x2="303.73" y2="782.0" stroke="#666" stroke-width="0.8"/>
<line x1="326.59" y1="779.5" x2="326.59" y2="782.0" stroke="#666" stroke-width="0.8"/>
<line x1="349.45" y1="779.5" x2="349.45" y2="782.0" stroke="#666" stroke-width="0.8"/>
<line x1="372.31" y1="779.5" x2="372.31" y2="782.0" stroke="#666" stroke-width="0.8"/>
<line x1="395.17" y1="779.5" x2="395.17" y2="782.0" stroke="#666" stroke-width="0.8"/>
<text transform="translate(63.70 789.20) scale(1 1.1)" font-size="8.6" text-anchor="middle" fill="#111">T3</text>
<text transform="translate(86.56 789.20) scale(1 1.1)" font-size="8.6" text-anchor="middle" fill="#111">T6</text>
<text transform="translate(109.42 789.20) scale(1 1.1)" font-size="8.6" text-anchor="middle" fill="#111">T9</text>
<text transform="translate(132.28 789.20) scale(1 1.1)" font-size="8.6" text-anchor="middle" fill="#111">T12</text>
<text transform="translate(155.14 789.20) scale(1 1.1)" font-size="8.6" text-anchor="middle" fill="#111">T15</text>
<text transform="translate(178.00 789.20) scale(1 1.1)" font-size="8.6" text-anchor="middle" fill="#111">T18</text>
<text transform="translate(200.86 789.20) scale(1 1.1)" font-size="8.6" text-anchor="middle" fill="#111">T21</text>
<text transform="translate(223.72 789.20) scale(1 1.1)" font-size="8.6" text-anchor="middle" fill="#111">T24</text>
<text transform="translate(246.58 789.20) scale(1 1.1)" font-size="8.6" text-anchor="middle" fill="#111">T27</text>
<text transform="translate(269.44 789.20) scale(1 1.1)" font-size="8.6" text-anchor="middle" fill="#111">T30</text>
<text transform="translate(292.30 789.20) scale(1 1.1)" font-size="8.6" text-anchor="middle" fill="#111">T33</text>
<text transform="translate(315.16 789.20) scale(1 1.1)" font-size="8.6" text-anchor="middle" fill="#111">T36</text>
<text transform="translate(338.02 789.20) scale(1 1.1)" font-size="8.6" text-anchor="middle" fill="#111">T39</text>
<text transform="translate(360.88 789.20) scale(1 1.1)" font-size="8.6" text-anchor="middle" fill="#111">T42</text>
<text transform="translate(383.74 789.20) scale(1 1.1)" font-size="8.6" text-anchor="middle" fill="#111">T45</text>
<text x="228" y="803" font-size="10.5" text-anchor="middle" fill="#222">Time (5-min bins)</text>
<text transform="translate(27.3 669.5) rotate(-90)" x="0" y="0" font-size="10.5" text-anchor="middle" fill="#222">Duration (s)</text>
<line x1="63.70" y1="735.00" x2="63.70" y2="760.50" stroke="#6a6a6a" stroke-width="0.9"/>
<line x1="61.90" y1="735.00" x2="65.50" y2="735.00" stroke="#6a6a6a" stroke-width="0.9"/>
<line x1="61.90" y1="760.50" x2="65.50" y2="760.50" stroke="#6a6a6a" stroke-width="0.9"/>
<line x1="86.56" y1="745.60" x2="86.56" y2="765.00" stroke="#6a6a6a" stroke-width="0.9"/>
<line x1="84.76" y1="745.60" x2="88.36" y2="745.60" stroke="#6a6a6a" stroke-width="0.9"/>
<line x1="84.76" y1="765.00" x2="88.36" y2="765.00" stroke="#6a6a6a" stroke-width="0.9"/>
<line x1="109.42" y1="756.25" x2="109.42" y2="772.00" stroke="#6a6a6a" stroke-width="0.9"/>
<line x1="107.62" y1="756.25" x2="111.22" y2="756.25" stroke="#6a6a6a" stroke-width="0.9"/>
<line x1="107.62" y1="772.00" x2="111.22" y2="772.00" stroke="#6a6a6a" stroke-width="0.9"/>
<line x1="132.28" y1="751.75" x2="132.28" y2="767.00" stroke="#6a6a6a" stroke-width="0.9"/>
<line x1="130.48" y1="751.75" x2="134.08" y2="751.75" stroke="#6a6a6a" stroke-width="0.9"/>
<line x1="130.48" y1="767.00" x2="134.08" y2="767.00" stroke="#6a6a6a" stroke-width="0.9"/>
<line x1="155.14" y1="757.50" x2="155.14" y2="767.50" stroke="#6a6a6a" stroke-width="0.9"/>
<line x1="153.34" y1="757.50" x2="156.94" y2="757.50" stroke="#6a6a6a" stroke-width="0.9"/>
<line x1="153.34" y1="767.50" x2="156.94" y2="767.50" stroke="#6a6a6a" stroke-width="0.9"/>
<line x1="178.00" y1="745.50" x2="178.00" y2="755.00" stroke="#6a6a6a" stroke-width="0.9"/>
<line x1="176.20" y1="745.50" x2="179.80" y2="745.50" stroke="#6a6a6a" stroke-width="0.9"/>
<line x1="176.20" y1="755.00" x2="179.80" y2="755.00" stroke="#6a6a6a" stroke-width="0.9"/>
<line x1="200.86" y1="750.50" x2="200.86" y2="764.50" stroke="#6a6a6a" stroke-width="0.9"/>
<line x1="199.06" y1="750.50" x2="202.66" y2="750.50" stroke="#6a6a6a" stroke-width="0.9"/>
<line x1="199.06" y1="764.50" x2="202.66" y2="764.50" stroke="#6a6a6a" stroke-width="0.9"/>
<line x1="223.72" y1="747.50" x2="223.72" y2="762.50" stroke="#6a6a6a" stroke-width="0.9"/>
<line x1="221.92" y1="747.50" x2="225.52" y2="747.50" stroke="#6a6a6a" stroke-width="0.9"/>
<line x1="221.92" y1="762.50" x2="225.52" y2="762.50" stroke="#6a6a6a" stroke-width="0.9"/>
<line x1="246.58" y1="740.50" x2="246.58" y2="755.50" stroke="#6a6a6a" stroke-width="0.9"/>
<line x1="244.78" y1="740.50" x2="248.38" y2="740.50" stroke="#6a6a6a" stroke-width="0.9"/>
<line x1="244.78" y1="755.50" x2="248.38" y2="755.50" stroke="#6a6a6a" stroke-width="0.9"/>
<line x1="269.44" y1="749.00" x2="269.44" y2="762.50" stroke="#6a6a6a" stroke-width="0.9"/>
<line x1="267.64" y1="749.00" x2="271.24" y2="749.00" stroke="#6a6a6a" stroke-width="0.9"/>
<line x1="267.64" y1="762.50" x2="271.24" y2="762.50" stroke="#6a6a6a" stroke-width="0.9"/>
<line x1="292.30" y1="745.75" x2="292.30" y2="758.75" stroke="#6a6a6a" stroke-width="0.9"/>
<line x1="290.50" y1="745.75" x2="294.10" y2="745.75" stroke="#6a6a6a" stroke-width="0.9"/>
<line x1="290.50" y1="758.75" x2="294.10" y2="758.75" stroke="#6a6a6a" stroke-width="0.9"/>
<line x1="315.16" y1="745.50" x2="315.16" y2="763.00" stroke="#6a6a6a" stroke-width="0.9"/>
<line x1="313.36" y1="745.50" x2="316.96" y2="745.50" stroke="#6a6a6a" stroke-width="0.9"/>
<line x1="313.36" y1="763.00" x2="316.96" y2="763.00" stroke="#6a6a6a" stroke-width="0.9"/>
<line x1="338.02" y1="745.00" x2="338.02" y2="757.50" stroke="#6a6a6a" stroke-width="0.9"/>
<line x1="336.22" y1="745.00" x2="339.82" y2="745.00" stroke="#6a6a6a" stroke-width="0.9"/>
<line x1="336.22" y1="757.50" x2="339.82" y2="757.50" stroke="#6a6a6a" stroke-width="0.9"/>
<line x1="360.88" y1="733.00" x2="360.88" y2="753.00" stroke="#6a6a6a" stroke-width="0.9"/>
<line x1="359.08" y1="733.00" x2="362.68" y2="733.00" stroke="#6a6a6a" stroke-width="0.9"/>
<line x1="359.08" y1="753.00" x2="362.68" y2="753.00" stroke="#6a6a6a" stroke-width="0.9"/>
<line x1="383.74" y1="750.00" x2="383.74" y2="765.50" stroke="#6a6a6a" stroke-width="0.9"/>
<line x1="381.94" y1="750.00" x2="385.54" y2="750.00" stroke="#6a6a6a" stroke-width="0.9"/>
<line x1="381.94" y1="765.50" x2="385.54" y2="765.50" stroke="#6a6a6a" stroke-width="0.9"/>
<line x1="63.70" y1="683.44" x2="63.70" y2="725.55" stroke="#6a6a6a" stroke-width="0.9"/>
<line x1="61.90" y1="683.44" x2="65.50" y2="683.44" stroke="#6a6a6a" stroke-width="0.9"/>
<line x1="61.90" y1="725.55" x2="65.50" y2="725.55" stroke="#6a6a6a" stroke-width="0.9"/>
<line x1="86.56" y1="596.10" x2="86.56" y2="662.38" stroke="#6a6a6a" stroke-width="0.9"/>
<line x1="84.76" y1="596.10" x2="88.36" y2="596.10" stroke="#6a6a6a" stroke-width="0.9"/>
<line x1="84.76" y1="662.38" x2="88.36" y2="662.38" stroke="#6a6a6a" stroke-width="0.9"/>
<line x1="109.42" y1="579.16" x2="109.42" y2="652.92" stroke="#6a6a6a" stroke-width="0.9"/>
<line x1="107.62" y1="579.16" x2="111.22" y2="579.16" stroke="#6a6a6a" stroke-width="0.9"/>
<line x1="107.62" y1="652.92" x2="111.22" y2="652.92" stroke="#6a6a6a" stroke-width="0.9"/>
<line x1="132.28" y1="574.17" x2="132.28" y2="658.90" stroke="#6a6a6a" stroke-width="0.9"/>
<line x1="130.48" y1="574.17" x2="134.08" y2="574.17" stroke="#6a6a6a" stroke-width="0.9"/>
<line x1="130.48" y1="658.90" x2="134.08" y2="658.90" stroke="#6a6a6a" stroke-width="0.9"/>
<line x1="155.14" y1="633.73" x2="155.14" y2="689.55" stroke="#6a6a6a" stroke-width="0.9"/>
<line x1="153.34" y1="633.73" x2="156.94" y2="633.73" stroke="#6a6a6a" stroke-width="0.9"/>
<line x1="153.34" y1="689.55" x2="156.94" y2="689.55" stroke="#6a6a6a" stroke-width="0.9"/>
<line x1="178.00" y1="634.75" x2="178.00" y2="695.80" stroke="#6a6a6a" stroke-width="0.9"/>
<line x1="176.20" y1="634.75" x2="179.80" y2="634.75" stroke="#6a6a6a" stroke-width="0.9"/>
<line x1="176.20" y1="695.80" x2="179.80" y2="695.80" stroke="#6a6a6a" stroke-width="0.9"/>
<line x1="200.86" y1="634.85" x2="200.86" y2="699.89" stroke="#6a6a6a" stroke-width="0.9"/>
<line x1="199.06" y1="634.85" x2="202.66" y2="634.85" stroke="#6a6a6a" stroke-width="0.9"/>
<line x1="199.06" y1="699.89" x2="202.66" y2="699.89" stroke="#6a6a6a" stroke-width="0.9"/>
<line x1="223.72" y1="667.92" x2="223.72" y2="715.26" stroke="#6a6a6a" stroke-width="0.9"/>
<line x1="221.92" y1="667.92" x2="225.52" y2="667.92" stroke="#6a6a6a" stroke-width="0.9"/>
<line x1="221.92" y1="715.26" x2="225.52" y2="715.26" stroke="#6a6a6a" stroke-width="0.9"/>
<line x1="246.58" y1="685.68" x2="246.58" y2="733.78" stroke="#6a6a6a" stroke-width="0.9"/>
<line x1="244.78" y1="685.68" x2="248.38" y2="685.68" stroke="#6a6a6a" stroke-width="0.9"/>
<line x1="244.78" y1="733.78" x2="248.38" y2="733.78" stroke="#6a6a6a" stroke-width="0.9"/>
<line x1="269.44" y1="729.79" x2="269.44" y2="750.47" stroke="#6a6a6a" stroke-width="0.9"/>
<line x1="267.64" y1="729.79" x2="271.24" y2="729.79" stroke="#6a6a6a" stroke-width="0.9"/>
<line x1="267.64" y1="750.47" x2="271.24" y2="750.47" stroke="#6a6a6a" stroke-width="0.9"/>
<line x1="292.30" y1="677.83" x2="292.30" y2="717.70" stroke="#6a6a6a" stroke-width="0.9"/>
<line x1="290.50" y1="677.83" x2="294.10" y2="677.83" stroke="#6a6a6a" stroke-width="0.9"/>
<line x1="290.50" y1="717.70" x2="294.10" y2="717.70" stroke="#6a6a6a" stroke-width="0.9"/>
<line x1="315.16" y1="719.30" x2="315.16" y2="748.20" stroke="#6a6a6a" stroke-width="0.9"/>
<line x1="313.36" y1="719.30" x2="316.96" y2="719.30" stroke="#6a6a6a" stroke-width="0.9"/>
<line x1="313.36" y1="748.20" x2="316.96" y2="748.20" stroke="#6a6a6a" stroke-width="0.9"/>
<line x1="338.02" y1="749.90" x2="338.02" y2="764.25" stroke="#6a6a6a" stroke-width="0.9"/>
<line x1="336.22" y1="749.90" x2="339.82" y2="749.90" stroke="#6a6a6a" stroke-width="0.9"/>
<line x1="336.22" y1="764.25" x2="339.82" y2="764.25" stroke="#6a6a6a" stroke-width="0.9"/>
<line x1="360.88" y1="751.49" x2="360.88" y2="764.65" stroke="#6a6a6a" stroke-width="0.9"/>
<line x1="359.08" y1="751.49" x2="362.68" y2="751.49" stroke="#6a6a6a" stroke-width="0.9"/>
<line x1="359.08" y1="764.65" x2="362.68" y2="764.65" stroke="#6a6a6a" stroke-width="0.9"/>
<line x1="383.74" y1="772.12" x2="383.74" y2="777.11" stroke="#6a6a6a" stroke-width="0.9"/>
<line x1="381.94" y1="772.12" x2="385.54" y2="772.12" stroke="#6a6a6a" stroke-width="0.9"/>
<line x1="381.94" y1="777.11" x2="385.54" y2="777.11" stroke="#6a6a6a" stroke-width="0.9"/>
<polyline points="63.70,748.00 86.56,755.60 109.42,764.25 132.28,760.00 155.14,762.50 178.00,750.50 200.86,757.50 223.72,755.00 246.58,748.00 269.44,755.75 292.30,752.50 315.16,754.50 338.02,751.25 360.88,743.00 383.74,758.00" fill="none" stroke="#222" stroke-width="1.15" stroke-dasharray="5 3"/>
<polyline points="63.70,704.50 86.56,629.24 109.42,616.04 132.28,616.54 155.14,661.64 178.00,665.28 200.86,667.37 223.72,691.59 246.58,709.73 269.44,740.13 292.30,697.77 315.16,733.75 338.02,757.07 360.88,758.07 383.74,774.62" fill="none" stroke="#222" stroke-width="1.15"/>
<polygon points="63.70,745.00 67.20,751.00 60.20,751.00" fill="#fff" stroke="#888" stroke-width="0.8"/>
<polygon points="86.56,752.60 90.06,758.60 83.06,758.60" fill="#fff" stroke="#888" stroke-width="0.8"/>
<polygon points="109.42,761.25 112.92,767.25 105.92,767.25" fill="#fff" stroke="#888" stroke-width="0.8"/>
<polygon points="132.28,757.00 135.78,763.00 128.78,763.00" fill="#fff" stroke="#888" stroke-width="0.8"/>
<polygon points="155.14,759.50 158.64,765.50 151.64,765.50" fill="#fff" stroke="#888" stroke-width="0.8"/>
<polygon points="178.00,747.50 181.50,753.50 174.50,753.50" fill="#fff" stroke="#888" stroke-width="0.8"/>
<polygon points="200.86,754.50 204.36,760.50 197.36,760.50" fill="#fff" stroke="#888" stroke-width="0.8"/>
<polygon points="223.72,752.00 227.22,758.00 220.22,758.00" fill="#fff" stroke="#888" stroke-width="0.8"/>
<polygon points="246.58,745.00 250.08,751.00 243.08,751.00" fill="#fff" stroke="#888" stroke-width="0.8"/>
<polygon points="269.44,752.75 272.94,758.75 265.94,758.75" fill="#fff" stroke="#888" stroke-width="0.8"/>
<polygon points="292.30,749.50 295.80,755.50 288.80,755.50" fill="#fff" stroke="#888" stroke-width="0.8"/>
<polygon points="315.16,751.50 318.66,757.50 311.66,757.50" fill="#fff" stroke="#888" stroke-width="0.8"/>
<polygon points="338.02,748.25 341.52,754.25 334.52,754.25" fill="#fff" stroke="#888" stroke-width="0.8"/>
<polygon points="360.88,740.00 364.38,746.00 357.38,746.00" fill="#fff" stroke="#888" stroke-width="0.8"/>
<polygon points="383.74,755.00 387.24,761.00 380.24,761.00" fill="#fff" stroke="#888" stroke-width="0.8"/>
<circle cx="63.70" cy="704.50" r="3.05" fill="#fff" stroke="#333" stroke-width="0.9"/>
<circle cx="86.56" cy="629.24" r="3.05" fill="#fff" stroke="#333" stroke-width="0.9"/>
<circle cx="109.42" cy="616.04" r="3.05" fill="#fff" stroke="#333" stroke-width="0.9"/>
<circle cx="132.28" cy="616.54" r="3.05" fill="#fff" stroke="#333" stroke-width="0.9"/>
<circle cx="155.14" cy="661.64" r="3.05" fill="#fff" stroke="#333" stroke-width="0.9"/>
<circle cx="178.00" cy="665.28" r="3.05" fill="#fff" stroke="#333" stroke-width="0.9"/>
<circle cx="200.86" cy="667.37" r="3.05" fill="#fff" stroke="#333" stroke-width="0.9"/>
<circle cx="223.72" cy="691.59" r="3.05" fill="#fff" stroke="#333" stroke-width="0.9"/>
<circle cx="246.58" cy="709.73" r="3.05" fill="#fff" stroke="#333" stroke-width="0.9"/>
<circle cx="269.44" cy="740.13" r="3.05" fill="#fff" stroke="#333" stroke-width="0.9"/>
<circle cx="292.30" cy="697.77" r="3.05" fill="#fff" stroke="#333" stroke-width="0.9"/>
<circle cx="315.16" cy="733.75" r="3.05" fill="#fff" stroke="#333" stroke-width="0.9"/>
<circle cx="338.02" cy="757.07" r="3.05" fill="#fff" stroke="#333" stroke-width="0.9"/>
<circle cx="360.88" cy="758.07" r="3.05" fill="#fff" stroke="#333" stroke-width="0.9"/>
<circle cx="383.74" cy="774.62" r="3.05" fill="#fff" stroke="#333" stroke-width="0.9"/>
<text x="280.7" y="584.2" font-size="10.5" fill="#111">10.0 mg/kg Quipazine</text>
<line x1="280.7" y1="584.9" x2="383.6" y2="584.9" stroke="#222" stroke-width="0.9"/>
</svg>
</body></html>
